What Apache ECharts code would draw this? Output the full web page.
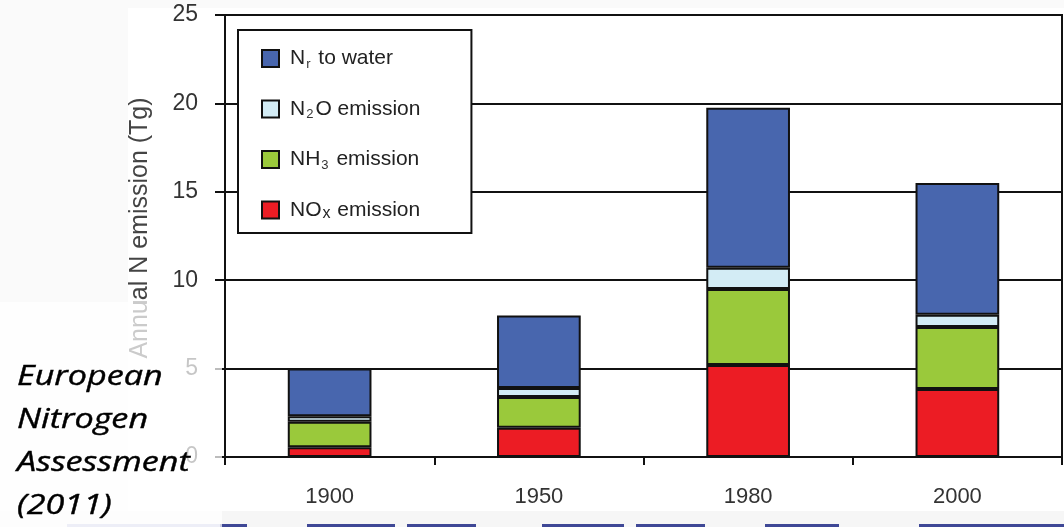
<!DOCTYPE html>
<html>
<head>
<meta charset="utf-8">
<script src="https://cdn.jsdelivr.net/npm/echarts@6/dist/echarts.min.js"></script>
<style>
html, body { margin: 0; padding: 0; background: #fafafa; }
#chart { width: 1064px; height: 527px; }
</style>
</head>
<body>
<div id="chart"></div>
<script>
// chart values (Tg N per year)
var years = ['1900', '1950', '1980', '2000']
var noxEmission = [0.55, 1.65, 5.2, 3.85]
var nh3Emission = [1.45, 1.75, 4.3, 3.5]
var n2oEmission = [0.3, 0.5, 1.2, 0.7]
var nrToWater = [2.7, 4.1, 9.05, 7.45]
var yMin = 0
var yMax = 25
var yStep = 5

// legend labels with subscripts
var legendRich = {
  'Nr to water': '{f|N}{s|r}{a| to water}',
  'N2O emission': '{f|N}{s|2}{a|O emission}',
  'NH3 emission': '{f|NH}{s|3}{a| emission}',
  'NOx emission': '{f|NO}{x|x}{a| emission}'
}

var chart = echarts.init(document.getElementById('chart'))

function seg (name, data, color) {
  return {
    name: name,
    type: 'bar',
    stack: 'total',
    barWidth: '40%',
    data: data,
    itemStyle: { color: color, borderColor: '#111', borderWidth: 2 }
  }
}

// bottom strip of the slide behind the figure
var strip = [[67, 220, '#bfc3e2'], [220, 247, '#3f4896'], [307, 395, '#3f4896'], [407, 476, '#3f4896'],
  [542, 624, '#3f4896'], [636, 705, '#3f4896'], [765, 839, '#3f4896'], [919, 1064, '#3f4896']]

var graphics = [
  { type: 'rect', z: -1, shape: { x: 128, y: 8, width: 936, height: 503 }, style: { fill: '#ffffff' } },
  { type: 'rect', z: -1, shape: { x: 0, y: 511, width: 1064, height: 16 }, style: { fill: '#f6f6f6' } },
  { type: 'rect', z: 100, shape: { x: 0, y: 302, width: 222, height: 225 }, style: { fill: 'rgba(255,255,255,0.72)' } },
  {
    type: 'text', z: 101, x: 17, y: 356, scaleX: 1.22, scaleY: 1,
    style: {
      text: 'European\nNitrogen\nAssessment\n(2011)',
      font: 'italic 28px "Open Sans", sans-serif',
      lineHeight: 43,
      fill: '#000',
      stroke: '#000',
      lineWidth: 0.4
    }
  }
]
strip.forEach(function (s) {
  graphics.push({ type: 'rect', z: -1, shape: { x: s[0], y: 524, width: s[1] - s[0], height: 3 }, style: { fill: s[2] } })
})

chart.setOption({
  backgroundColor: '#fafafa',
  animation: false,
  textStyle: { fontFamily: '"Liberation Sans", Arial, sans-serif' },
  grid: {
    left: 225, right: 2, top: 15, bottom: 70,
    show: true, backgroundColor: '#fff', borderColor: '#111', borderWidth: 2
  },
  legend: {
    orient: 'vertical',
    left: 238,
    top: 30,
    padding: [18, 51, 11, 23],
    itemWidth: 17,
    itemHeight: 17,
    itemGap: 28,
    backgroundColor: '#fff',
    borderColor: '#111',
    borderWidth: 2,
    borderRadius: 0,
    icon: 'rect',
    data: ['Nr to water', 'N2O emission', 'NH3 emission', 'NOx emission'],
    formatter: function (name) { return legendRich[name] },
    textStyle: {
      rich: {
        f: { fontSize: 21, color: '#222', lineHeight: 24, verticalAlign: 'middle', padding: [0, 0, 0, 6] },
        a: { fontSize: 21, color: '#222', lineHeight: 24, verticalAlign: 'middle' },
        s: { fontSize: 13, color: '#333', lineHeight: 24, verticalAlign: 'bottom', padding: [0, 2, 0, 1] },
        x: { fontSize: 16, color: '#222', lineHeight: 24, verticalAlign: 'bottom', padding: [0, 1, 0, 1] }
      }
    }
  },
  xAxis: {
    type: 'category',
    data: years,
    axisLine: { lineStyle: { color: '#111', width: 2 } },
    axisTick: { show: true, length: 8, lineStyle: { color: '#111', width: 2 } },
    axisLabel: { fontSize: 22, color: '#333', margin: 29 }
  },
  yAxis: {
    type: 'value',
    min: yMin,
    max: yMax,
    interval: yStep,
    name: 'Annual N emission (Tg)',
    nameLocation: 'middle',
    nameGap: 72,
    nameTextStyle: { fontSize: 25, color: '#444', padding: [0, 0, 0, 16] },
    axisLine: { show: true, lineStyle: { color: '#111', width: 2 } },
    axisTick: { show: true, length: 10, lineStyle: { color: '#111', width: 2 } },
    axisLabel: { fontSize: 23, color: '#333', margin: 27 },
    splitLine: { lineStyle: { color: '#111', width: 2 } }
  },
  graphic: graphics,
  series: [
    seg('NOx emission', noxEmission, '#ec1c24'),
    seg('NH3 emission', nh3Emission, '#9ac93b'),
    seg('N2O emission', n2oEmission, '#d3ecf5'),
    seg('Nr to water', nrToWater, '#4866ae')
  ]
})
</script>
</body>
</html>
